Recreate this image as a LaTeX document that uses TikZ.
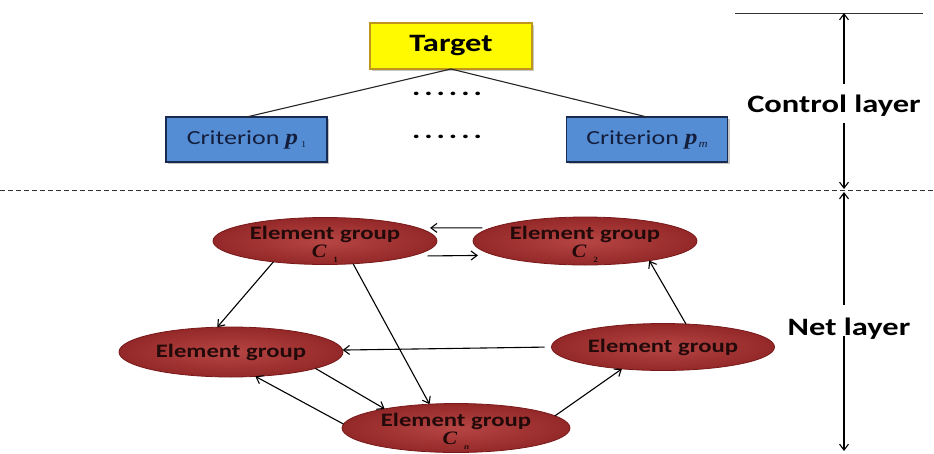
\documentclass[tikz,border=0pt]{standalone}
\usepackage{fontspec}
\usepackage{graphicx}
\newfontfamily\carl[FakeStretch=1.3]{Carlito}
\newfontfamily\tms[FakeStretch=1.15]{Liberation Serif}
\usetikzlibrary{shapes.geometric,arrows.meta,shadows}
\definecolor{tgtfill}{RGB}{255,250,0}
\definecolor{tgtdraw}{RGB}{190,150,30}
\definecolor{crfill}{RGB}{84,141,212}
\definecolor{crdraw}{RGB}{25,42,80}
\definecolor{crtext}{RGB}{20,30,60}
\definecolor{eginner}{RGB}{182,70,68}
\definecolor{egouter}{RGB}{148,40,40}
\definecolor{egdraw}{RGB}{120,25,25}
\definecolor{egtext}{RGB}{35,10,10}
\newcommand\sixdots{.\kern4pt.\kern4pt.\kern4pt.\kern4pt.\kern4pt.}
\newcommand\symC[1]{{\tms\bfseries\itshape C}\kern7pt\raisebox{-5pt}{\tms\fontsize{8}{8}\selectfont #1}}
\begin{document}
\begin{tikzpicture}[x=1pt,y=-1pt,
  tbox/.style={draw=tgtdraw, line width=1.2pt, fill=tgtfill, minimum width=162pt, minimum height=46pt,
    inner sep=0pt, outer sep=0pt, font=\carl\bfseries\fontsize{25}{25}\selectfont,
    drop shadow={shadow xshift=2pt, shadow yshift=-2pt, opacity=.45}},
  cbox/.style={draw=crdraw, line width=1.5pt, fill=crfill, minimum width=161pt, minimum height=45pt,
    inner sep=0pt, outer sep=0pt, text=crtext, font=\carl\fontsize{20}{20}\selectfont,
    drop shadow={shadow xshift=2pt, shadow yshift=-2pt, opacity=.45}},
  egshape/.style={ellipse, draw=egdraw, line width=0.8pt, shading=radial, inner color=eginner, outer color=egouter,
    minimum width=224pt, minimum height=47pt, inner sep=0pt, outer sep=0pt},
  egtxt/.style={text=egtext, align=center, inner sep=0pt, font=\carl\bfseries\fontsize{19}{18}\selectfont},
  dotrow/.style={inner sep=0pt, font=\carl\bfseries\fontsize{24}{24}\selectfont},
  layertxt/.style={inner sep=0pt, font=\carl\bfseries\fontsize{25}{25}\selectfont},
  arr/.style={-{Straight Barb[length=6pt,width=9pt]}, line width=1.1pt, black},
  link/.style={line width=1.1pt, black!85}
]
\useasboundingbox (0,0) rectangle (934,453);

% control layer
\node[tbox] (target) at (451,46) {Target};
\node[cbox] (p1) at (246.5,139.5) {Criterion\kern6pt{\tms\bfseries\itshape\fontsize{22}{22}\selectfont p}\kern3pt\raisebox{-3pt}{\tms\fontsize{9}{9}\selectfont 1}};
\node[cbox] (pm) at (647,139.5) {Criterion\kern6pt{\tms\bfseries\itshape\fontsize{22}{22}\selectfont p}\kern1pt\raisebox{-3pt}{\tms\itshape\fontsize{11}{11}\selectfont m}};
\node[dotrow] (d1) at (447,94) {\sixdots};
\node[dotrow] (d2) at (447,137) {\sixdots};
\draw[link] (target.south) -- (p1.north);
\draw[link] (target.south) -- (pm.north);

% separator
\draw[black!80, line width=0.8pt, dash pattern=on 5pt off 3pt] (0,190) -- (934,190);

% layer markers
\draw[black!80, line width=1pt] (735,13) -- (923,13);
\node[layertxt] (ctl) at (834,106) {Control layer};
\node[layertxt] (net) at (849,329) {Net layer};
\coordinate (a1) at (844,13);
\coordinate (a2) at (844,84);
\coordinate (a3) at (844,123);
\coordinate (a4) at (844,189);
\coordinate (a5) at (844,192);
\coordinate (a6) at (844,305);
\coordinate (a7) at (844,336);
\coordinate (a8) at (844,451);
\draw[arr] (a2) -- (a1);
\draw[arr] (a3) -- (a4);
\draw[arr] (a6) -- (a5);
\draw[arr] (a7) -- (a8);

% net layer
\node[egshape] (c1) at (325,241) {};
\node[egshape, minimum height=48pt] (c2) at (585,241) {};
\node[egshape, minimum height=50pt] (l) at (231,352) {};
\node[egshape, minimum width=223pt] (r) at (663,347) {};
\node[egshape, minimum width=228pt, minimum height=49pt] (cn) at (456,428) {};

\node[egtxt] (c1t) at ([yshift=-3pt]c1.center) {Element group\\\symC{1}};
\node[egtxt] (c2t) at ([yshift=-3pt]c2.center) {Element group\\\symC{2}};
\node[egtxt] (lt) at (l.center) {Element group};
\node[egtxt] (rt) at (r.center) {Element group};
\node[egtxt] (cnt) at ([yshift=-3.5pt]cn.center) {Element group\\\symC{\itshape n}};

\draw[arr, shorten <=9pt, shorten >=12pt] (c2.172) -- (c1.8);
\draw[arr, shorten <=17pt, shorten >=17pt] (c1.350.1) -- (c2.189.7);
\draw[arr] (c1.202) -- (l.119);
\draw[arr] (c1.321) -- (cn.138);
\draw[arr] (r.45) -- (c2.343);
\draw[arr, shorten <=7pt] (r.west) -- (l.1.5);
\draw[arr] (l.349.6) -- (cn.165.3);
\draw[arr] (cn.178) -- (l.315);
\draw[arr] (cn.7.5) -- (r.208);
\end{tikzpicture}
\end{document}
